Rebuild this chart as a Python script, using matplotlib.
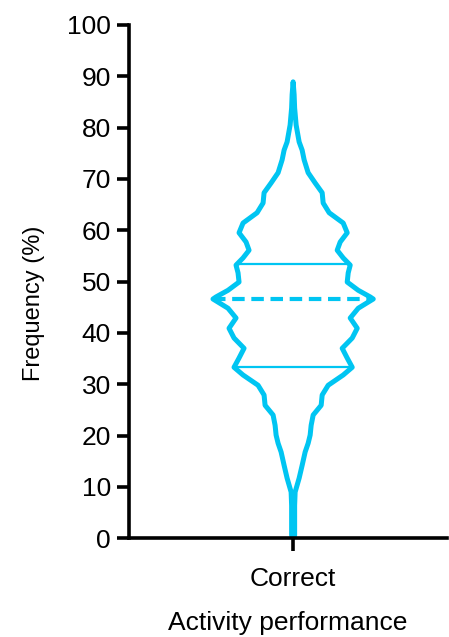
import numpy as np
import matplotlib.pyplot as plt

plt.rcParams['font.family'] = ['Liberation Sans', 'DejaVu Sans']

# violin outline: level (%) and half width (pixels)
levels = [0.0, 0.6, 6.4, 9.0, 11.7, 14.2, 16.8, 18.5, 20.1, 22.0, 24.0, 25.9,
          27.9, 29.8, 31.8, 33.3, 35.1, 37.0, 39.0, 40.9, 42.9, 44.8, 46.6,
          47.0, 48.3, 49.9, 51.7, 53.2, 54.6, 56.1, 57.7, 59.5, 61.4, 63.4,
          65.3, 67.3, 69.2, 71.2, 73.7, 75.6, 77.2, 80.5, 83.8, 86.4, 88.9]
half_px = [0.5, 1.5, 1.5, 2, 6, 9, 12, 15, 17, 18, 20, 28,
           29, 35, 50, 59, 54, 49, 59, 64, 57, 65, 80,
           77, 65, 54, 55, 57, 50, 44, 47, 54, 50, 36,
           30, 29, 22, 15, 11, 9, 6, 3, 1.5, 1, 0]
half_width = [p / 328.0 for p in half_px]

median = 46.6
quartiles = [33.3, 53.4]
category = ['Correct']
color = '#00C5F2'

fig = plt.figure(figsize=(4.49, 6.37), dpi=100)
ax = fig.add_axes([0.287, 0.155, 0.709, 0.806])

xc = 1.0
y = np.array(levels)
hw = np.array(half_width)
ax.plot(np.concatenate([xc + hw, (xc - hw)[::-1]]),
        np.concatenate([y, y[::-1]]),
        color=color, lw=3.6, solid_joinstyle='round', solid_capstyle='round')

# median and quartile lines span the violin width at their level
w_med = np.interp(median, y, hw)
ax.plot([xc - w_med, xc + w_med], [median, median], color=color, lw=3.0,
        linestyle=(0, (3, 1.6)))
for q in quartiles:
    w = np.interp(q, y, hw)
    ax.plot([xc - w, xc + w], [q, q], color=color, lw=1.6)

ax.set_xlim(0.5, 1.469)
ax.set_ylim(0, 100)
ax.set_yticks(np.arange(0, 101, 10))
ax.set_xticks([xc])
ax.set_xticklabels(category)

for s in ['top', 'right']:
    ax.spines[s].set_visible(False)
for s in ['left', 'bottom']:
    ax.spines[s].set_linewidth(2.6)
ax.tick_params(axis='both', direction='out', length=9, width=2.6,
               labelsize=19, pad=4)
ax.tick_params(axis='x', pad=12)
ax.set_ylabel('Frequency (%)', fontsize=17)
ax.yaxis.set_label_coords(-0.265, 0.458)
ax.set_xlabel('Activity performance', fontsize=19, labelpad=14)

fig.savefig('out.png', dpi=100)
